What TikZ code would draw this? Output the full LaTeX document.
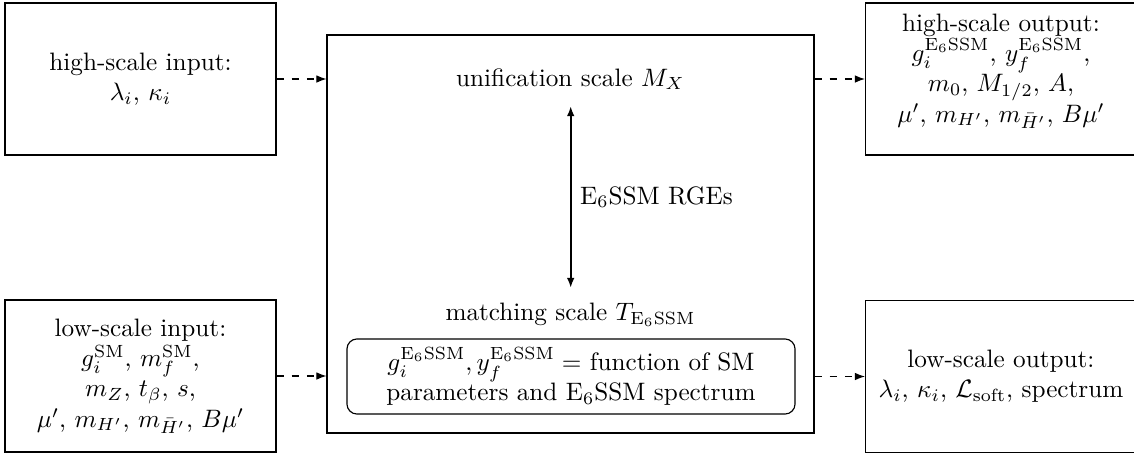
\documentclass[tikz,border=0pt]{standalone}
\usetikzlibrary{arrows.meta}
\begin{document}
\begin{tikzpicture}[x=0.3968pt,y=-0.3968pt,
  iobox/.style={draw, line width=0.45pt, minimum width=107.5pt, minimum height=60.3pt, align=center, inner sep=2pt},
  iotext/.style={align=center, inner sep=0pt},
  mainbox/.style={draw, line width=0.45pt, minimum width=193.2pt, minimum height=157.9pt},
  fnbox/.style={draw, line width=0.45pt, rounded corners=4pt, minimum width=177.8pt, minimum height=29.8pt, align=center, inner sep=1pt},
  flow/.style={dashed, line width=0.45pt, -{Latex[length=4pt,width=3pt]}},
  rge/.style={line width=0.8pt, {Latex[length=4pt,width=3pt]}-{Latex[length=4pt,width=3pt]}}]
\useasboundingbox (0,0) rectangle (1134,452);
\clip (0,0) rectangle (1134,452);
\node[iobox] (hin) at (140.5,79) {high-scale input:\\ $\lambda_i$, $\kappa_i$};
\node[iobox] (lin) at (140.5,376) {low-scale input:\\ $g_i^{\mathrm{SM}}$, $m_f^{\mathrm{SM}}$,\\ $m_Z$, $t_\beta$, $s$,\\ $\mu'$, $m_{H'}$, $m_{\bar{H}'}$, $B\mu'$};
\node[iobox] (hout) at (1001,79) {};
\node[iotext] (houttext) at (1001,71) {high-scale output:\\ $g_i^{\mathrm{E_6SSM}}$, $y_f^{\mathrm{E_6SSM}}$,\\ $m_0$, $M_{1/2}$, $A$,\\ $\mu'$, $m_{H'}$, $m_{\bar{H}'}$, $B\mu'$};
\node[iobox] (lout) at (1001,376.5) {low-scale output:\\ $\lambda_i$, $\kappa_i$, $\mathcal{L}_{\mathrm{soft}}$, spectrum};
\node[mainbox] (main) at (570.5,234) {};
\node (ux) at (570.5,79) {unification scale $M_X$};
\node (mt) at (570.5,315) {matching scale $T_{\mathrm{E_6SSM}}$};
\node[fnbox] (fn) at (571,376.5) {$g_i^{\mathrm{E_6SSM}}, y_f^{\mathrm{E_6SSM}} =$ function of SM\\ parameters and E$_6$SSM spectrum};
\coordinate (rtop) at (570.7,106);
\coordinate (rbot) at (570.7,288);
\draw[rge] (rtop) -- node[right] {E$_6$SSM RGEs} (rbot);
\draw[flow] (hin.east) -- (hin.east -| main.west);
\draw[flow] (lin.east) -- (lin.east -| main.west);
\draw[flow] (main.east |- hout.west) -- (hout.west);
\draw[flow] (main.east |- lout.west) -- (lout.west);
\end{tikzpicture}
\end{document}
